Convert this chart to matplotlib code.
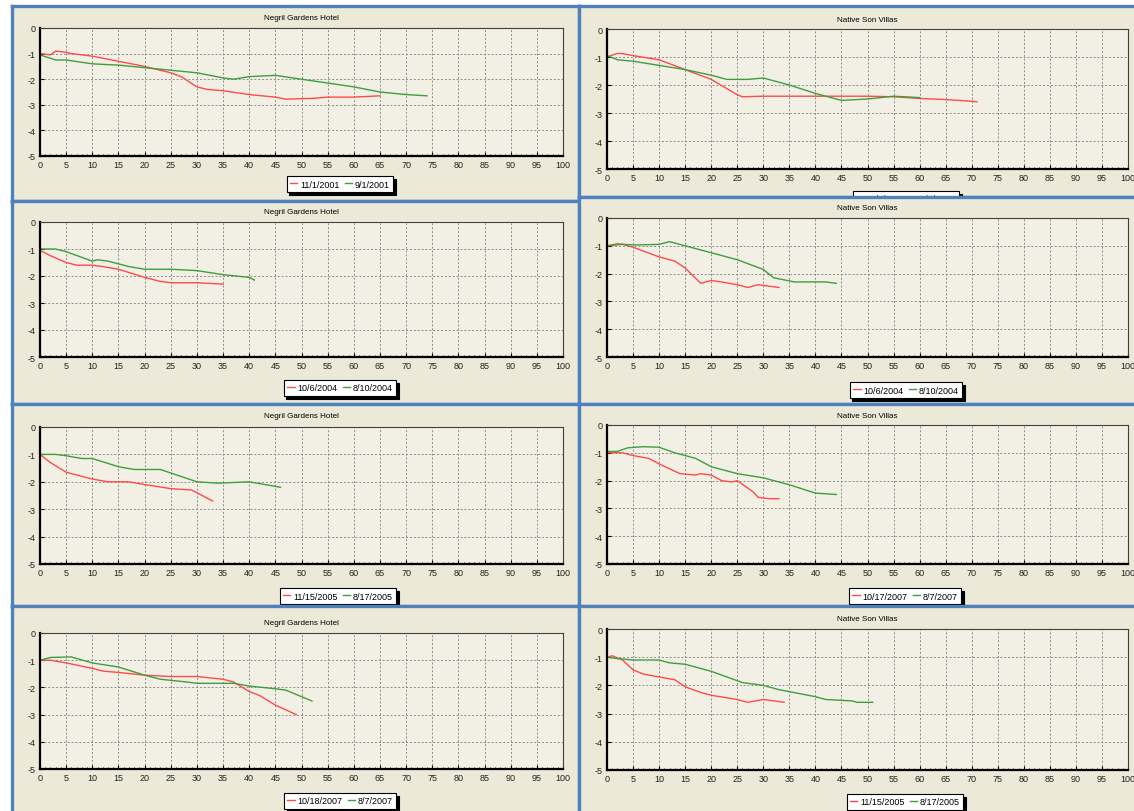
import matplotlib
matplotlib.use("Agg")
import matplotlib.pyplot as plt
from matplotlib.ticker import MultipleLocator

plt.rcParams['font.family'] = ['Liberation Sans', 'DejaVu Sans']
plt.rcParams['axes.unicode_minus'] = False

W, H = 1134, 812

# titles and legend labels
hotel_left = "Negril Gardens Hotel"
hotel_right = "Native Son Villas"

# row 1 left: Negril 11/1/2001 - 9/1/2001
r1l_red_x = [0, 2, 3, 5, 6, 10, 15, 20, 25, 27, 30, 32, 35, 40, 45, 47, 52, 55, 60, 62, 65]
r1l_red_y = [-1.0, -1.05, -0.9, -0.95, -1.0, -1.1, -1.3, -1.5, -1.75, -1.9, -2.3, -2.4, -2.45,
             -2.6, -2.7, -2.78, -2.75, -2.7, -2.7, -2.68, -2.65]
r1l_grn_x = [0, 3, 5, 10, 15, 20, 25, 30, 35, 37, 40, 45, 50, 55, 60, 65, 70, 74]
r1l_grn_y = [-1.05, -1.25, -1.25, -1.4, -1.45, -1.55, -1.65, -1.75, -1.95, -2.0, -1.9, -1.85,
             -2.0, -2.15, -2.3, -2.5, -2.6, -2.65]
r1l_labels = ["11/1/2001", "9/1/2001"]

# row 1 right: Native Son (legend hidden)
r1r_red_x = [0, 2, 3, 5, 10, 15, 20, 25, 26, 30, 40, 50, 55, 60, 65, 70, 71]
r1r_red_y = [-1.0, -0.87, -0.88, -0.95, -1.1, -1.45, -1.8, -2.35, -2.42, -2.4, -2.4, -2.4,
             -2.42, -2.48, -2.52, -2.58, -2.6]
r1r_grn_x = [0, 2, 5, 10, 15, 20, 23, 27, 30, 35, 40, 45, 50, 55, 60]
r1r_grn_y = [-0.95, -1.1, -1.15, -1.3, -1.45, -1.65, -1.8, -1.8, -1.75, -2.0, -2.3, -2.55,
             -2.5, -2.4, -2.45]
r1r_labels = ["11/1/2001", "9/1/2001"]

# row 2 left: Negril 10/6/2004 - 8/10/2004
r2l_red_x = [0, 2, 5, 7, 10, 12, 15, 20, 23, 25, 30, 35]
r2l_red_y = [-1.05, -1.25, -1.5, -1.6, -1.6, -1.65, -1.75, -2.05, -2.2, -2.25, -2.25, -2.3]
r2l_grn_x = [0, 3, 5, 10, 11, 13, 17, 20, 25, 30, 35, 40, 41]
r2l_grn_y = [-1.0, -1.0, -1.1, -1.45, -1.4, -1.45, -1.65, -1.75, -1.75, -1.8, -1.95, -2.05, -2.15]
r2l_labels = ["10/6/2004", "8/10/2004"]

# row 2 right: Native Son 10/6/2004 - 8/10/2004
r2r_red_x = [0, 3, 5, 10, 13, 15, 18, 20, 22, 25, 27, 29, 33]
r2r_red_y = [-1.0, -0.95, -1.05, -1.4, -1.55, -1.8, -2.35, -2.25, -2.3, -2.4, -2.5, -2.4, -2.5]
r2r_grn_x = [0, 2, 5, 10, 12, 15, 20, 25, 30, 32, 36, 42, 44]
r2r_grn_y = [-1.0, -0.93, -0.97, -0.95, -0.85, -1.0, -1.25, -1.5, -1.85, -2.15, -2.3, -2.3, -2.35]
r2r_labels = ["10/6/2004", "8/10/2004"]

# row 3 left: Negril 11/15/2005 - 8/17/2005
r3l_red_x = [0, 2, 5, 10, 13, 17, 20, 25, 29, 33]
r3l_red_y = [-1.0, -1.3, -1.65, -1.9, -2.0, -2.0, -2.1, -2.25, -2.3, -2.7]
r3l_grn_x = [0, 3, 5, 8, 10, 15, 18, 23, 30, 34, 40, 43, 46]
r3l_grn_y = [-1.0, -1.0, -1.05, -1.15, -1.15, -1.45, -1.55, -1.55, -2.0, -2.05, -2.0, -2.1, -2.2]
r3l_labels = ["11/15/2005", "8/17/2005"]

# row 3 right: Native Son 10/17/2007 - 8/7/2007
r3r_red_x = [0, 3, 5, 8, 10, 14, 17, 18, 20, 22, 24, 25, 28, 29, 31, 33]
r3r_red_y = [-1.0, -1.0, -1.1, -1.2, -1.4, -1.75, -1.8, -1.75, -1.8, -2.0, -2.05, -2.0,
             -2.4, -2.6, -2.65, -2.65]
r3r_grn_x = [0, 2, 4, 7, 10, 13, 17, 20, 25, 30, 35, 40, 44]
r3r_grn_y = [-0.95, -0.95, -0.82, -0.78, -0.8, -1.0, -1.2, -1.5, -1.75, -1.9, -2.15, -2.45, -2.5]
r3r_labels = ["10/17/2007", "8/7/2007"]

# row 4 left: Negril 10/18/2007 - 8/7/2007
r4l_red_x = [0, 2, 5, 10, 12, 15, 20, 25, 30, 35, 37, 40, 42, 45, 49]
r4l_red_y = [-1.0, -1.0, -1.1, -1.3, -1.4, -1.45, -1.55, -1.6, -1.6, -1.7, -1.8, -2.15,
             -2.3, -2.65, -3.0]
r4l_grn_x = [0, 2, 6, 10, 15, 20, 23, 28, 30, 37, 40, 45, 47, 52]
r4l_grn_y = [-1.0, -0.9, -0.88, -1.1, -1.25, -1.55, -1.7, -1.8, -1.85, -1.85, -1.95, -2.05,
             -2.1, -2.5]
r4l_labels = ["10/18/2007", "8/7/2007"]

# row 4 right: Native Son 11/15/2005 - 8/17/2005
r4r_red_x = [0, 1, 3, 5, 7, 10, 13, 15, 18, 20, 25, 27, 30, 32, 34]
r4r_red_y = [-1.0, -0.95, -1.1, -1.45, -1.6, -1.7, -1.8, -2.05, -2.25, -2.35, -2.5, -2.6,
             -2.5, -2.55, -2.6]
r4r_grn_x = [0, 2, 5, 8, 10, 12, 15, 20, 26, 30, 33, 40, 42, 47, 48, 51]
r4r_grn_y = [-1.0, -1.05, -1.1, -1.1, -1.1, -1.2, -1.25, -1.5, -1.9, -2.0, -2.15, -2.4,
             -2.5, -2.55, -2.6, -2.6]
r4r_labels = ["11/15/2005", "8/17/2005"]

RED = '#ff4a4a'
GREEN = '#3e9e3e'
BLUE = '#4f81bd'
PANEL_BG = '#ece9d8'
PLOT_BG = '#f2f0e4'


def rect(x0, y0, x1, y1):
    # pixel box (top-left origin) -> figure fraction
    return [x0 / W, 1 - y1 / H, (x1 - x0) / W, (y1 - y0) / H]


# panel box, axes box, title y, legend centre, data
panels = [
    ((12, 7, 579, 202), (40, 29, 563, 157), 19, (340, 185), hotel_left,
     r1l_red_x, r1l_red_y, r1l_grn_x, r1l_grn_y, r1l_labels),
    ((579, 7, 1140, 198), (607, 30, 1128, 170), 20, (906, 200), hotel_right,
     r1r_red_x, r1r_red_y, r1r_grn_x, r1r_grn_y, r1r_labels),
    ((12, 202, 579, 405), (40, 223, 563, 358), 213, (340, 389), hotel_left,
     r2l_red_x, r2l_red_y, r2l_grn_x, r2l_grn_y, r2l_labels),
    ((579, 198, 1140, 405), (607, 219, 1128, 358), 209, (906, 391), hotel_right,
     r2r_red_x, r2r_red_y, r2r_grn_x, r2r_grn_y, r2r_labels),
    ((12, 405, 579, 607), (40, 428, 563, 565), 417, (338, 597), hotel_left,
     r3l_red_x, r3l_red_y, r3l_grn_x, r3l_grn_y, r3l_labels),
    ((579, 405, 1140, 607), (607, 426, 1128, 565), 416, (905, 597), hotel_right,
     r3r_red_x, r3r_red_y, r3r_grn_x, r3r_grn_y, r3r_labels),
    ((12, 607, 579, 820), (40, 634, 563, 770), 624, (340, 802), hotel_left,
     r4l_red_x, r4l_red_y, r4l_grn_x, r4l_grn_y, r4l_labels),
    ((579, 607, 1140, 820), (607, 630, 1128, 771), 620, (905, 803), hotel_right,
     r4r_red_x, r4r_red_y, r4r_grn_x, r4r_grn_y, r4r_labels),
]

fig = plt.figure(figsize=(W / 100, H / 100), dpi=100, facecolor='white')

for (pbox, abox, ty, lc, title, rx, ry, gx, gy, labels) in panels:
    # panel background with blue frame
    bg = fig.add_axes(rect(*pbox))
    bg.set_facecolor(PANEL_BG)
    bg.set_xticks([])
    bg.set_yticks([])
    for s in bg.spines.values():
        s.set_color(BLUE)
        s.set_linewidth(2.4)

    ax = fig.add_axes(rect(*abox))
    ax.set_facecolor(PLOT_BG)
    ax.plot(rx, ry, color=RED, lw=1.0, label=labels[0])
    ax.plot(gx, gy, color=GREEN, lw=1.0, label=labels[1])
    ax.set_xlim(0, 100)
    ax.set_ylim(-5, 0)
    ax.xaxis.set_major_locator(MultipleLocator(5))
    ax.xaxis.set_minor_locator(MultipleLocator(1))
    ax.yaxis.set_major_locator(MultipleLocator(1))
    ax.grid(True, which='major', color='#8a8a8a', linestyle=(0, (2, 2)), linewidth=0.7)
    ax.tick_params(which='major', direction='in', length=3, width=0.8, labelsize=6.5,
                   pad=3, labelcolor='#222222')
    ax.tick_params(which='minor', direction='in', length=1.5, width=0.6)
    ax.tick_params(axis='y', which='minor', left=False)
    for side in ('left', 'bottom'):
        ax.spines[side].set_linewidth(1.6)
        ax.spines[side].set_color('black')
    for side in ('top', 'right'):
        ax.spines[side].set_linewidth(0.8)
        ax.spines[side].set_color('#404040')
    ax.set_axisbelow(True)

    cx = (abox[0] + abox[2]) / 2
    fig.text(cx / W, 1 - ty / H, title, ha='center', va='center', fontsize=5.8)

    leg = ax.legend(loc='center', bbox_to_anchor=(lc[0] / W, 1 - lc[1] / H),
                    bbox_transform=fig.transFigure, ncol=2, fontsize=6.5,
                    handlelength=0.8, handletextpad=0.3, columnspacing=0.6,
                    borderpad=0.4, fancybox=False, framealpha=1,
                    shadow={'color': 'black', 'alpha': 1})
    leg.get_frame().set_edgecolor('black')
    leg.get_frame().set_linewidth(0.8)

fig.savefig('out.png', dpi=100, facecolor='white')
